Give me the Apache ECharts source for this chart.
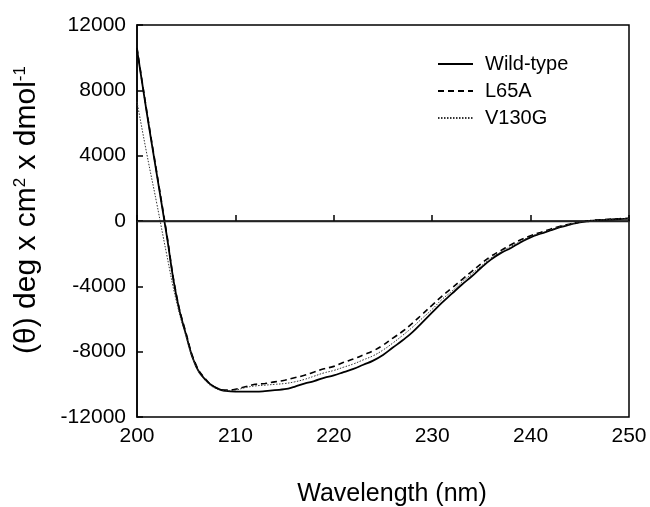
<!DOCTYPE html>
<html>
<head>
<meta charset="utf-8">
<script src="https://cdn.jsdelivr.net/npm/echarts@6/dist/echarts.min.js"></script>
<style>
html,body{margin:0;padding:0;background:#fff;}
#chart{width:650px;height:507px;}
</style>
</head>
<body>
<div id="chart"></div>
<script>
var wavelengths = [200,201,202,203,204,205,206,207,208,209,210,211,212,213,214,215,216,217,218,219,220,221,222,223,224,225,226,227,228,229,230,231,232,233,234,235,236,237,238,239,240,241,242,243,244,245,246,247,248,249,250];
var wildType = [10500,6600,2900,-800,-4600,-7000,-8900,-9750,-10200,-10400,-10450,-10450,-10450,-10420,-10350,-10300,-10150,-9950,-9800,-9600,-9450,-9250,-9050,-8800,-8550,-8200,-7750,-7300,-6800,-6200,-5600,-5000,-4450,-3900,-3400,-2850,-2350,-1950,-1650,-1300,-1000,-780,-580,-380,-220,-80,0,50,90,120,150];
var l65a = [10600,6700,3000,-700,-4500,-6900,-8800,-9700,-10200,-10350,-10300,-10150,-10000,-9950,-9850,-9750,-9600,-9450,-9250,-9050,-8900,-8650,-8450,-8200,-7950,-7600,-7170,-6750,-6250,-5700,-5150,-4600,-4100,-3600,-3100,-2600,-2150,-1800,-1450,-1150,-900,-700,-500,-320,-180,-60,20,70,110,140,160];
var v130g = [7300,4100,1100,-2000,-4900,-7100,-8900,-9800,-10250,-10400,-10350,-10200,-10100,-10050,-10000,-9950,-9850,-9700,-9500,-9300,-9150,-8950,-8750,-8500,-8250,-7900,-7470,-7000,-6500,-5950,-5400,-4800,-4300,-3750,-3250,-2750,-2250,-1900,-1550,-1250,-950,-750,-550,-350,-200,-70,10,60,100,130,150];
var seriesNames = ['Wild-type','L65A','V130G'];
var xTicks = [200,210,220,230,240,250];
var yTicks = [-12000,-8000,-4000,0,4000,8000,12000];

function pairs(vals){ return wavelengths.map(function(w,i){ return [w, vals[i]]; }); }

var chart = echarts.init(document.getElementById('chart'), null, {renderer:'canvas'});
var font = 'Liberation Sans, Arial, sans-serif';
chart.setOption({
  animation:false,
  backgroundColor:'#fff',
  textStyle:{fontFamily:font,color:'#000'},
  grid:{left:137,right:21,top:25,bottom:90,show:true,borderColor:'#000',borderWidth:1.5,backgroundColor:'transparent',outerBoundsMode:'none',containLabel:false},
  legend:{
    orient:'vertical',left:432,top:49,itemWidth:35,itemHeight:12,itemGap:7,
    itemStyle:{opacity:0},
    textStyle:{fontSize:20,color:'#000',fontFamily:font,padding:[0,0,0,7]},
    data:seriesNames
  },
  xAxis:{
    type:'value',min:xTicks[0],max:xTicks[xTicks.length-1],interval:xTicks[1]-xTicks[0],
    name:'Wavelength (nm)',nameLocation:'middle',nameGap:65,
    nameTextStyle:{fontSize:25,color:'#000',fontFamily:font,padding:[0,0,0,18]},
    axisLine:{show:true,lineStyle:{color:'#000',width:1.5}},
    axisTick:{show:true,inside:true,length:6,lineStyle:{color:'#000',width:1.5}},
    axisLabel:{fontSize:21,color:'#000',margin:9,fontFamily:font,formatter:function(v){return String(v);}},
    splitLine:{show:false}
  },
  yAxis:{
    type:'value',min:yTicks[0],max:yTicks[yTicks.length-1],interval:yTicks[1]-yTicks[0],
    name:'{a|(θ) deg x cm}{s|2}{a| x dmol}{s|-1}',nameLocation:'middle',nameRotate:90,nameGap:95,
    nameTextStyle:{fontFamily:font,color:'#000',padding:[0,0,0,22],rich:{a:{fontSize:30,fontFamily:font,color:'#000'},s:{fontSize:17,fontFamily:font,color:'#000',verticalAlign:'top',padding:[0,0,13,0]}}},
    axisLine:{show:true,lineStyle:{color:'#000',width:1.5}},
    axisTick:{show:true,inside:true,length:6,lineStyle:{color:'#000',width:1.5}},
    axisLabel:{fontSize:21,color:'#000',margin:11,fontFamily:font,formatter:function(v){return String(v);}},
    splitLine:{show:false}
  },
  series:[
    {name:seriesNames[0],type:'line',data:pairs(wildType),symbol:'none',smooth:true,
     lineStyle:{color:'#000',width:1.8,type:'solid'},itemStyle:{color:'#000'},
     markLine:{silent:true,symbol:['none','none'],label:{show:false},lineStyle:{color:'#222',width:1.3,type:'solid'},data:[{yAxis:0}]}},
    {name:seriesNames[1],type:'line',data:pairs(l65a),symbol:'none',smooth:true,
     lineStyle:{color:'#000',width:1.6,type:[6,4]},itemStyle:{color:'#000'}},
    {name:seriesNames[2],type:'line',data:pairs(v130g),symbol:'none',smooth:true,
     lineStyle:{color:'#333',width:1,type:[1.5,1.5]},itemStyle:{color:'#333'}}
  ]
});
</script>
</body>
</html>
